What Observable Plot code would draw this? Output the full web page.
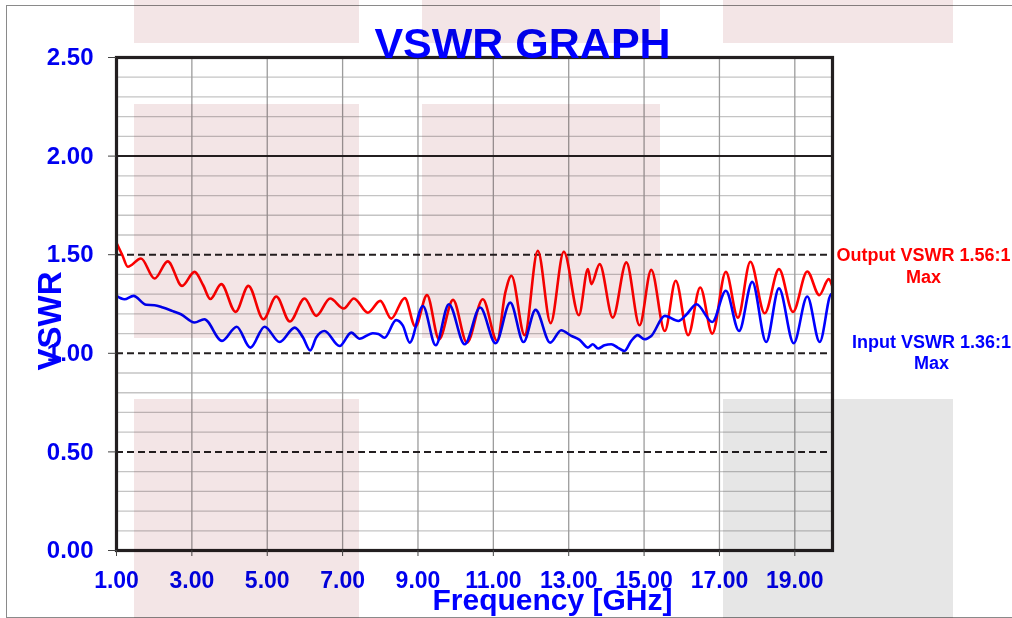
<!DOCTYPE html>
<html>
<head>
<meta charset="utf-8">
<script src="https://cdn.jsdelivr.net/npm/d3@7"></script>
<script src="https://cdn.jsdelivr.net/npm/@observablehq/plot@0.6"></script>
<style>
  html, body { margin: 0; padding: 0; background: #fff; overflow: hidden; }
  #wrap { position: relative; width: 1012px; height: 618px; }
  #chart svg { display: block; }
  .wm { position: absolute; mix-blend-mode: multiply; pointer-events: none; background: #f3e5e6; }
  .wm.gray { background: #e6e6e6; }
  #border { position: absolute; left: 6px; top: 5px; width: 1100px; height: 611px; border: 1px solid #8a8a8a; pointer-events: none; }
</style>
</head>
<body>
<div id="wrap">
  <div id="chart"></div>
  <div id="border"></div>
  <div class="wm" style="left:134px;top:0;width:225px;height:43px"></div>
  <div class="wm" style="left:422px;top:0;width:238px;height:43px"></div>
  <div class="wm" style="left:723px;top:0;width:230px;height:43px"></div>
  <div class="wm" style="left:134px;top:104px;width:225px;height:234px"></div>
  <div class="wm" style="left:422px;top:104px;width:238px;height:234px"></div>
  <div class="wm" style="left:134px;top:399px;width:225px;height:219px"></div>
  <div class="wm gray" style="left:723px;top:399px;width:230px;height:219px"></div>
</div>
<script>
// Output VSWR (red)
const outFreq = [1.00,1.15,1.30,1.65,2.01,2.36,2.74,3.07,3.30,3.49,3.78,4.16,4.50,4.90,5.24,5.60,5.99,6.30,6.67,7.03,7.30,7.67,8.00,8.29,8.65,8.93,9.24,9.56,9.93,10.30,10.72,11.10,11.32,11.48,11.83,12.18,12.52,12.87,13.27,13.51,13.60,13.82,14.17,14.53,14.88,15.19,15.55,15.84,16.17,16.49,16.81,17.17,17.49,17.82,18.20,18.58,18.95,19.33,19.65,19.90,20.00];
const outVswr = [1.559,1.50,1.439,1.481,1.379,1.466,1.342,1.413,1.345,1.275,1.351,1.210,1.342,1.173,1.288,1.161,1.278,1.190,1.278,1.227,1.278,1.206,1.266,1.176,1.280,1.135,1.295,1.071,1.271,1.054,1.274,1.063,1.310,1.393,1.092,1.520,1.153,1.515,1.193,1.427,1.351,1.452,1.181,1.461,1.142,1.423,1.113,1.368,1.092,1.334,1.100,1.413,1.181,1.464,1.203,1.427,1.210,1.415,1.295,1.376,1.337];

// Input VSWR (blue)
const inFreq = [1.00,1.21,1.45,1.79,2.01,2.23,2.49,2.71,3.07,3.33,3.80,4.19,4.55,4.93,5.33,5.73,5.95,6.14,6.30,6.52,6.92,7.23,7.45,7.80,7.95,8.11,8.42,8.60,8.78,9.13,9.47,9.82,10.24,10.65,11.06,11.45,11.80,12.12,12.51,12.80,13.07,13.29,13.51,13.64,13.78,13.95,14.13,14.30,14.48,14.66,14.83,15.01,15.19,15.55,15.91,16.13,16.39,16.81,17.17,17.52,17.87,18.24,18.58,18.97,19.33,19.66,19.97,20.00];
const inVswr = [1.291,1.274,1.291,1.246,1.244,1.232,1.214,1.198,1.156,1.173,1.063,1.135,1.029,1.135,1.057,1.130,1.080,1.015,1.080,1.113,1.037,1.105,1.074,1.102,1.098,1.079,1.168,1.140,1.054,1.240,1.041,1.249,1.046,1.232,1.051,1.257,1.057,1.220,1.054,1.117,1.088,1.068,1.029,1.046,1.024,1.041,1.046,1.029,1.012,1.063,1.092,1.071,1.088,1.190,1.164,1.198,1.249,1.159,1.317,1.113,1.362,1.057,1.329,1.051,1.288,1.057,1.300,1.290];

// Axis ticks and grid values
const xTicks = [1,3,5,7,9,11,13,15,17,19];
const yTicks = [0,0.5,1.0,1.5,2.0,2.5];
const yMinor = [0.1,0.2,0.3,0.4,0.6,0.7,0.8,0.9,1.1,1.2,1.3,1.4,1.6,1.7,1.8,1.9,2.1,2.2,2.3,2.4];
const yDashed = [0.5,1.0,1.5];
const ySolid = [2.0];

// Texts
const titleText = "VSWR GRAPH";
const xLabel = "Frequency [GHz]";
const yLabel = "VSWR";
const outNote = "Output VSWR 1.56:1\nMax";
const inNote = "Input VSWR 1.36:1\nMax";

const outData = outFreq.map((f, i) => ({f, v: outVswr[i]}));
const inData = inFreq.map((f, i) => ({f, v: inVswr[i]}));

const font = "'Liberation Sans', Arial, Helvetica, sans-serif";
const fmt = d3.format(".2f");

const chart = Plot.plot({
  width: 1012,
  height: 618,
  marginLeft: 116,
  marginRight: 180,
  marginTop: 57,
  marginBottom: 68,
  style: {fontFamily: font, fontWeight: "bold", background: "white"},
  x: {domain: [1, 20]},
  y: {domain: [0, 2.5]},
  marks: [
    Plot.ruleY(yMinor, {stroke: "#c4c4c4", strokeWidth: 1.3}),
    Plot.ruleX(xTicks.slice(1), {stroke: "#9c9c9c", strokeWidth: 1.3}),
    Plot.ruleY(yDashed, {stroke: "#231f20", strokeWidth: 2, strokeDasharray: "7,4"}),
    Plot.ruleY(ySolid, {stroke: "#231f20", strokeWidth: 2}),
    Plot.line(outData, {x: "f", y: "v", stroke: "#ff0000", strokeWidth: 2.6, curve: "monotone-x"}),
    Plot.line(inData, {x: "f", y: "v", stroke: "#0000ff", strokeWidth: 2.6, curve: "monotone-x"}),
    Plot.frame({stroke: "#231f20", strokeWidth: 3.2}),
    Plot.axisY({ticks: yTicks, tickSize: 8, tickPadding: 15, tickFormat: fmt, fontSize: 24, fontWeight: "bold", fill: "#0000f0", stroke: "#444", label: null}),
    Plot.axisX({ticks: xTicks, tickSize: 6, tickPadding: 15, tickFormat: fmt, fontSize: 23, fontWeight: "bold", fill: "#0000f0", stroke: "#444", label: null}),
    Plot.text([titleText], {frameAnchor: "top", dx: 48, dy: 0, lineAnchor: "bottom", fontSize: 43, fontWeight: "bold", fill: "#0000ff"}),
    Plot.text([xLabel], {frameAnchor: "bottom", dx: 78, dy: 59, lineAnchor: "bottom", fontSize: 30, fontWeight: "bold", fill: "#0000ff"}),
    Plot.text([yLabel], {frameAnchor: "left", y: 1.164, dx: -66, rotate: -90, textAnchor: "middle", fontSize: 33, fontWeight: "bold", fill: "#0000ff"}),
    Plot.text([outNote], {frameAnchor: "right", y: 1.447, dx: 91, textAnchor: "middle", lineAnchor: "middle", lineHeight: 1.19, fontSize: 18, fontWeight: "bold", fill: "#ff0000"}),
    Plot.text([inNote], {frameAnchor: "right", y: 1.007, dx: 99, textAnchor: "middle", lineAnchor: "middle", lineHeight: 1.19, fontSize: 18, fontWeight: "bold", fill: "#0000ff"})
  ]
});
document.getElementById("chart").appendChild(chart);
</script>
</body>
</html>
